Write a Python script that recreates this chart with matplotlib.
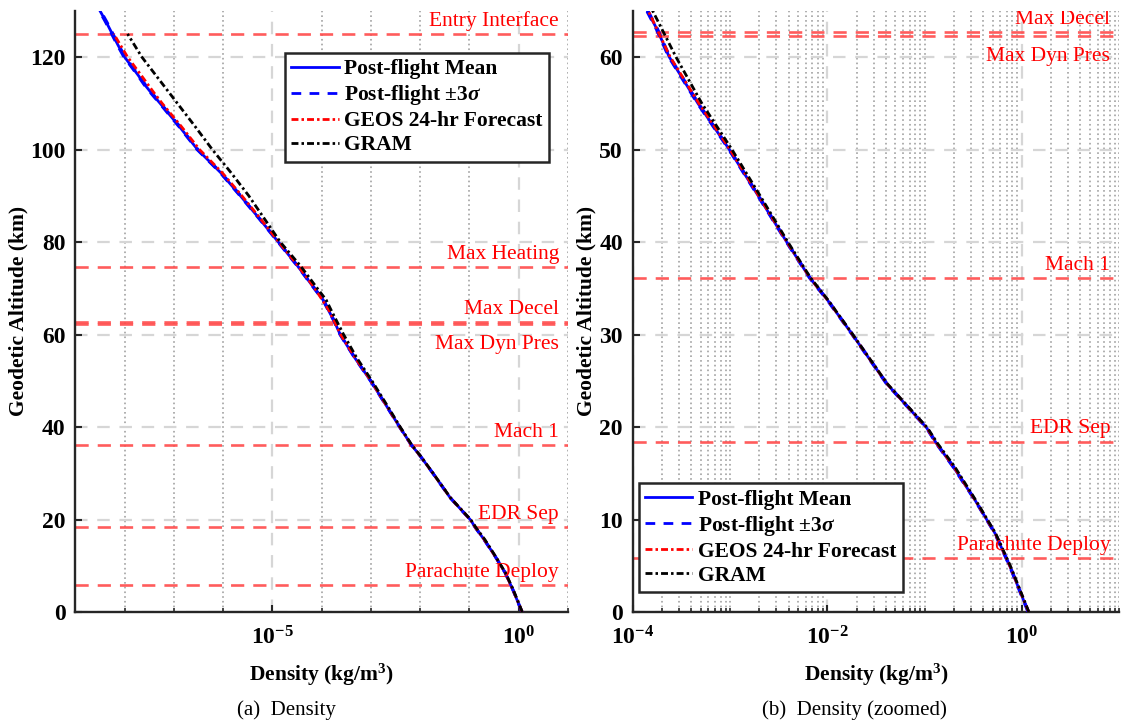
import numpy as np
import matplotlib
matplotlib.use("Agg")
import matplotlib.pyplot as plt
import matplotlib.transforms as mtransforms
from matplotlib.ticker import FixedLocator, LogLocator, NullFormatter, LogFormatterSciNotation

plt.rcParams['font.family'] = ['Liberation Serif', 'DejaVu Serif']
plt.rcParams['font.weight'] = 'bold'
plt.rcParams['mathtext.fontset'] = 'custom'
plt.rcParams['mathtext.rm'] = 'Liberation Serif:bold'
plt.rcParams['mathtext.it'] = 'Liberation Serif:italic:bold'
plt.rcParams['mathtext.bf'] = 'Liberation Serif:bold'
plt.rcParams['lines.scale_dashes'] = False

# ---------------- data (log10 density in kg/m^3 vs geodetic altitude in km) ----------------
mean_alt = [0, 4.9, 8.5, 12.1, 15.7, 18.2, 19.9, 24.7, 30.1, 33.7, 36.1, 40, 45, 50, 55, 60,
            63, 65, 67.5, 70, 74.7, 80, 85, 90, 95, 100, 105, 110, 112, 114, 116, 118, 120,
            122.5, 125, 127.5, 130]
mean_log = [0.066, -0.122, -0.276, -0.482, -0.705, -0.876, -0.978, -1.39, -1.749, -1.996,
            -2.178, -2.417, -2.71, -3.007, -3.33, -3.624, -3.75, -3.85, -3.97, -4.15, -4.48,
            -4.88, -5.26, -5.65, -6.05, -6.52, -6.89, -7.28, -7.44, -7.59, -7.72, -7.86, -8.00,
            -8.13, -8.25, -8.37, -8.50]
upper_log = [0.070, -0.118, -0.272, -0.478, -0.700, -0.871, -0.973, -1.385, -1.744, -1.991,
             -2.173, -2.412, -2.704, -3.001, -3.323, -3.617, -3.742, -3.842, -3.961, -4.141,
             -4.471, -4.870, -5.250, -5.639, -6.038, -6.508, -6.877, -7.266, -7.425, -7.575,
             -7.705, -7.845, -7.984, -8.114, -8.234, -8.354, -8.484]
lower_log = [0.062, -0.126, -0.280, -0.486, -0.710, -0.881, -0.983, -1.395, -1.754, -2.001,
             -2.183, -2.422, -2.716, -3.013, -3.337, -3.631, -3.758, -3.858, -3.979, -4.159,
             -4.489, -4.890, -5.270, -5.661, -6.062, -6.532, -6.903, -7.294, -7.455, -7.605,
             -7.735, -7.875, -8.016, -8.146, -8.266, -8.386, -8.516]

geos_alt = [0, 4.9, 8.5, 12.1, 15.7, 18.2, 19.9, 24.7, 30.1, 33.7, 36.1, 40, 45, 50, 55, 60,
            65, 70, 75, 80, 85, 90, 95, 100, 105, 110, 112.5, 116, 120, 122.5, 125]
geos_log = [0.07, -0.12, -0.274, -0.48, -0.70, -0.874, -0.976, -1.388, -1.748, -1.994, -2.176,
            -2.414, -2.705, -3.00, -3.32, -3.615, -3.84, -4.14, -4.49, -4.87, -5.24, -5.62,
            -6.02, -6.48, -6.85, -7.24, -7.42, -7.66, -7.94, -8.08, -8.22]

gram_alt = [0, 4.9, 8.5, 12.1, 15.7, 18.2, 19.9, 24.7, 30.1, 33.7, 36.1, 40, 45, 50, 55, 60,
            65, 67.5, 70, 74.7, 80, 85, 90, 95, 100, 105, 110, 115, 120, 125]
gram_log = [0.072, -0.115, -0.27, -0.475, -0.69, -0.865, -0.97, -1.385, -1.745, -1.99, -2.17,
            -2.405, -2.69, -2.98, -3.29, -3.555, -3.795, -3.91, -4.09, -4.42, -4.84, -5.16,
            -5.48, -5.84, -6.22, -6.57, -6.93, -7.29, -7.65, -7.94]

event_names = ['Entry Interface', 'Max Heating', 'Max Decel', 'Max Dyn Pres', 'Mach 1',
               'EDR Sep', 'Parachute Deploy']
event_alt = [125.0, 74.6, 62.7, 62.3, 36.1, 18.4, 5.85]

left_xticks = [1e-5, 1e0]
left_minor_xticks = [1e-9, 1e-8, 1e-7, 1e-6, 1e-5, 1e-4, 1e-3, 1e-2, 1e-1, 1e0, 1e1]
left_yticks = [0, 20, 40, 60, 80, 100, 120]
right_xticks = [1e-4, 1e-2, 1e0]
right_yticks = [0, 10, 20, 30, 40, 50, 60]

# ---------------- figure ----------------
fig = plt.figure(figsize=(11.21, 7.28), dpi=100)
axL = fig.add_axes([0.0672, 0.1593, 0.4395, 0.8259])
axR = fig.add_axes([0.5644, 0.1593, 0.4340, 0.8259])

FS = 15.5
TFS = 17
ev_color = '#ff4a4a'
spine_c = '#262626'
below_labels = {'Max Dyn Pres'}

def style(ax):
    for s in ['top', 'right']:
        ax.spines[s].set_visible(False)
    for s in ['left', 'bottom']:
        ax.spines[s].set_linewidth(1.7)
        ax.spines[s].set_color(spine_c)
    ax.tick_params(which='both', direction='in', top=False, right=False, colors=spine_c,
                   labelcolor='black', labelsize=TFS)
    ax.tick_params(which='major', length=5, width=1.5)
    ax.tick_params(axis='y', which='major', pad=7)
    ax.tick_params(axis='x', which='major', pad=10)
    ax.tick_params(which='minor', length=3, width=1.2)
    ax.grid(True, which='major', color='#d6d6d6', linestyle=(0, (9, 7)), linewidth=1.6)
    ax.grid(True, which='minor', axis='x', color='#a9a9a9', linestyle=(0, (1.2, 2.2)),
            linewidth=1.3)
    ax.set_axisbelow(True)

def draw(ax):
    ax.plot(10 ** np.array(mean_log), mean_alt, color='#0000ff', lw=2.0, ls='-',
            label='Post-flight Mean', zorder=3)
    ax.plot(10 ** np.array(upper_log), mean_alt, color='#0000ff', lw=2.0, ls=(0, (7, 6)),
            label=r'Post-flight $\mathregular{\pm}$3$\sigma$', zorder=3)
    ax.plot(10 ** np.array(lower_log), mean_alt, color='#0000ff', lw=2.0, ls=(0, (7, 6)),
            zorder=3)
    ax.plot(10 ** np.array(geos_log), geos_alt, color='#ff0000', lw=2.0,
            ls=(0, (5, 2.2, 1.8, 2.2)), label='GEOS 24-hr Forecast', zorder=4)
    ax.plot(10 ** np.array(gram_log), gram_alt, color='black', lw=2.0,
            ls=(0, (5, 2.2, 1.8, 2.2)), label='GRAM', zorder=5)
    tr_above = mtransforms.offset_copy(ax.get_yaxis_transform(), fig=fig, x=-6.5, y=6,
                                       units='points')
    tr_below = mtransforms.offset_copy(ax.get_yaxis_transform(), fig=fig, x=-6.5, y=-8,
                                       units='points')
    for name, a in zip(event_names, event_alt):
        ax.axhline(a, color=ev_color, lw=1.9, ls=(0, (9.5, 6.5)), alpha=0.9, zorder=2)
        if name in below_labels:
            ax.text(1.0, a, name, transform=tr_below, ha='right', va='top', color='red',
                    fontsize=FS, fontweight='normal', clip_on=True, zorder=6)
        else:
            ax.text(1.0, a, name, transform=tr_above, ha='right', va='baseline', color='red',
                    fontsize=FS, fontweight='normal', clip_on=True, zorder=6)

for ax in (axL, axR):
    style(ax)
    draw(ax)
    ax.set_xscale('log')
    ax.set_ylabel('Geodetic Altitude (km)', fontsize=FS, fontweight='bold')
    ax.set_xlabel(r'Density (kg/m$^\mathregular{3}$)', fontsize=FS, fontweight='bold')

# left panel
axL.set_xlim(1e-9, 1e1)
axL.set_ylim(0, 130)
axL.xaxis.set_major_locator(FixedLocator(left_xticks))
axL.xaxis.set_minor_locator(FixedLocator(left_minor_xticks))
axL.xaxis.set_major_formatter(LogFormatterSciNotation())
axL.xaxis.set_minor_formatter(NullFormatter())
axL.set_yticks(left_yticks)
axL.yaxis.set_label_coords(-0.096, 0.5)
axL.xaxis.set_label_coords(0.5, -0.083)

# right panel
axR.set_xlim(1e-4, 1e1)
axR.set_ylim(0, 65)
axR.xaxis.set_major_locator(FixedLocator(right_xticks))
axR.xaxis.set_minor_locator(LogLocator(base=10, subs=np.arange(1, 10), numticks=60))
axR.xaxis.set_major_formatter(LogFormatterSciNotation())
axR.xaxis.set_minor_formatter(NullFormatter())
axR.set_yticks(right_yticks)
axR.yaxis.set_label_coords(-0.0754, 0.5)
axR.xaxis.set_label_coords(0.5, -0.083)

leg_kw = dict(fontsize=FS, frameon=True, fancybox=False, framealpha=1, edgecolor=spine_c,
              handlelength=2.2, handletextpad=0.25, labelspacing=0.18, borderpad=0.3,
              borderaxespad=0)
legL = axL.legend(loc='upper left', bbox_to_anchor=(0.4256, 0.930), **leg_kw)
legR = axR.legend(loc='lower left', bbox_to_anchor=(0.0123, 0.0333), **leg_kw)
for lg in (legL, legR):
    lg.get_frame().set_linewidth(1.8)
    lg.set_zorder(10)
    for t in lg.get_texts():
        t.set_fontweight('bold')

fig.text(286 / 1121, 1 - 710 / 728, '(a)  Density', ha='center', va='center',
         fontsize=15, fontweight='normal')
fig.text(854 / 1121, 1 - 710 / 728, '(b)  Density (zoomed)', ha='center', va='center',
         fontsize=15, fontweight='normal')

fig.savefig('out.png', dpi=100)
